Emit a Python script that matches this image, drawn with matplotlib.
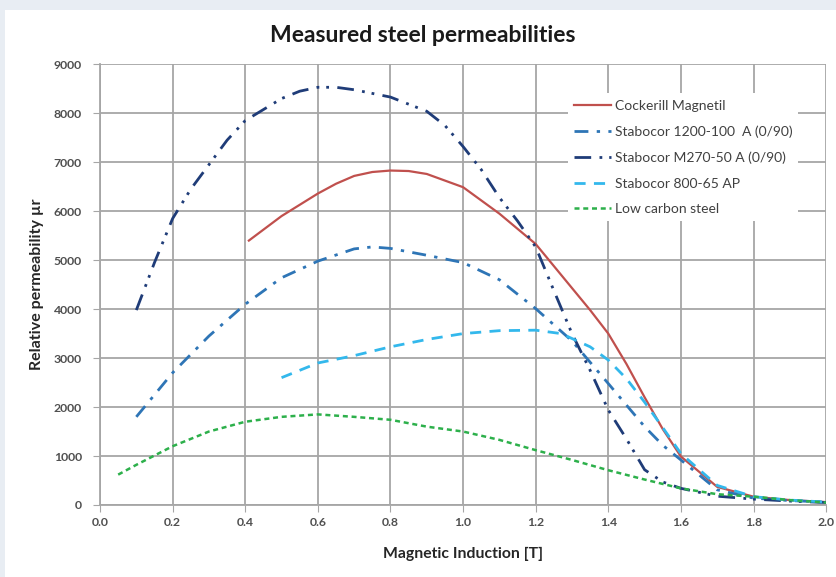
import matplotlib.pyplot as plt
from matplotlib.patches import Rectangle

# values
b_cockerill = [0.41, 0.5, 0.6, 0.65, 0.7, 0.75, 0.8, 0.85, 0.9, 1.0, 1.1, 1.2, 1.3, 1.35, 1.4, 1.45, 1.5, 1.55, 1.6, 1.7, 1.8, 1.9, 2.0]
mu_cockerill = [5400, 5900, 6360, 6560, 6720, 6800, 6830, 6820, 6760, 6490, 5950, 5330, 4430, 3980, 3500, 2880, 2200, 1550, 990, 370, 170, 100, 60]

b_1200 = [0.1, 0.2, 0.3, 0.4, 0.5, 0.6, 0.7, 0.75, 0.8, 0.9, 1.0, 1.1, 1.2, 1.3, 1.4, 1.5, 1.55, 1.6, 1.7, 1.8, 1.9, 2.0]
mu_1200 = [1800, 2700, 3450, 4100, 4640, 4980, 5230, 5270, 5240, 5100, 4950, 4600, 4010, 3350, 2480, 1600, 1220, 920, 310, 140, 90, 60]

b_m270 = [0.1, 0.15, 0.2, 0.25, 0.3, 0.35, 0.4, 0.5, 0.55, 0.6, 0.65, 0.7, 0.8, 0.9, 0.95, 1.0, 1.05, 1.1, 1.15, 1.2, 1.25, 1.3, 1.35,
          1.4, 1.45, 1.5, 1.55, 1.6, 1.7, 1.8, 1.9, 2.0]
mu_m270 = [3980, 4950, 5850, 6450, 6950, 7450, 7850, 8300, 8450, 8530, 8530, 8480, 8330, 8040, 7750, 7320, 6850, 6280, 5800, 5270, 4380,
           3500, 2750, 1940, 1350, 720, 470, 340, 180, 120, 80, 50]

b_800 = [0.5, 0.6, 0.7, 0.8, 0.9, 1.0, 1.1, 1.2, 1.27, 1.3, 1.35, 1.4, 1.45, 1.5, 1.55, 1.6, 1.7, 1.8, 1.9, 2.0]
mu_800 = [2600, 2900, 3050, 3230, 3380, 3500, 3560, 3570, 3500, 3400, 3230, 2960, 2580, 2100, 1580, 1050, 400, 170, 100, 60]

b_low = [0.05, 0.1, 0.2, 0.3, 0.4, 0.5, 0.6, 0.7, 0.8, 0.9, 1.0, 1.1, 1.2, 1.3, 1.4, 1.5, 1.6, 1.7, 1.8, 1.9, 2.0]
mu_low = [620, 820, 1200, 1500, 1700, 1800, 1850, 1800, 1740, 1600, 1500, 1330, 1120, 920, 710, 520, 340, 220, 170, 100, 50]

x_ticks = [0.0, 0.2, 0.4, 0.6, 0.8, 1.0, 1.2, 1.4, 1.6, 1.8, 2.0]
y_ticks = [0, 1000, 2000, 3000, 4000, 5000, 6000, 7000, 8000, 9000]

#--------------------------------------------------------PLOTTING------------------------------------------------------
plt.rcParams['font.family'] = ['Lato', 'DejaVu Sans']

fig = plt.figure(figsize=(8.37, 5.77), dpi=100, facecolor='#e8edf3')
bg = Rectangle((0.006, 0), 0.994, 0.983, transform=fig.transFigure,
               facecolor='white', edgecolor='none', zorder=-10)
fig.add_artist(bg)
ax = fig.add_axes([0.1195, 0.1248, 0.8675, 0.7638])
ax.set_facecolor('white')

ax.plot(b_cockerill, mu_cockerill, color='#c0504d', lw=1.6, label='Cockerill Magnetil')
ax.plot(b_1200, mu_1200, color='#2e75b6', lw=2.0, dashes=(5, 3, 1.2, 3), label='Stabocor 1200-100  A (0/90)')
ax.plot(b_m270, mu_m270, color='#1f3c78', lw=2.0, dashes=(6, 3, 1, 2.5, 1, 3), label='Stabocor M270-50 A (0/90)')
ax.plot(b_800, mu_800, color='#33b8ec', lw=2.0, dashes=(4, 3), label='Stabocor 800-65 AP')
ax.plot(b_low, mu_low, color='#2db04b', lw=1.8, dashes=(2, 1.5), label='Low carbon steel')

ax.set_xlim(0, 2.0)
ax.set_ylim(0, 9000)
ax.set_xticks(x_ticks)
ax.set_xticklabels([f'{v:.1f}' for v in x_ticks])
ax.set_yticks(y_ticks)
ax.grid(True, color='#a6a6a6', lw=1.3)
ax.set_axisbelow(True)
for s in ['top', 'right']:
    ax.spines[s].set_visible(False)
for s in ['left', 'bottom']:
    ax.spines[s].set_color('#a6a6a6')
    ax.spines[s].set_linewidth(1.3)
ax.tick_params(length=5, color='#a6a6a6', labelsize=8.8, labelcolor='#505050')
ax.tick_params(axis='y', pad=8)
ax.tick_params(axis='x', pad=4)
for lab in ax.get_xticklabels() + ax.get_yticklabels():
    lab.set_fontweight('bold')

fig.text(0.5045, 1 - 35 / 577, 'Measured steel permeabilities', fontsize=16.5, fontweight='bold',
         ha='center', va='center', color='#1a1a1a')
ax.set_xlabel('Magnetic Induction [T]', fontsize=11.3, fontweight='bold', labelpad=13, color='#262626')
ax.set_ylabel('Relative permeability µr', fontsize=11.5, fontweight='bold', labelpad=7, color='#262626')

leg = ax.legend(loc='upper left', bbox_to_anchor=(0.6446, 0.934), borderaxespad=0, fontsize=10,
                frameon=True, fancybox=False, edgecolor='none', framealpha=1, handlelength=2.65,
                handletextpad=0.25, labelspacing=0.98, borderpad=0.45)
for t in leg.get_texts():
    t.set_color('#404040')

plt.savefig('out.png', dpi=100)
